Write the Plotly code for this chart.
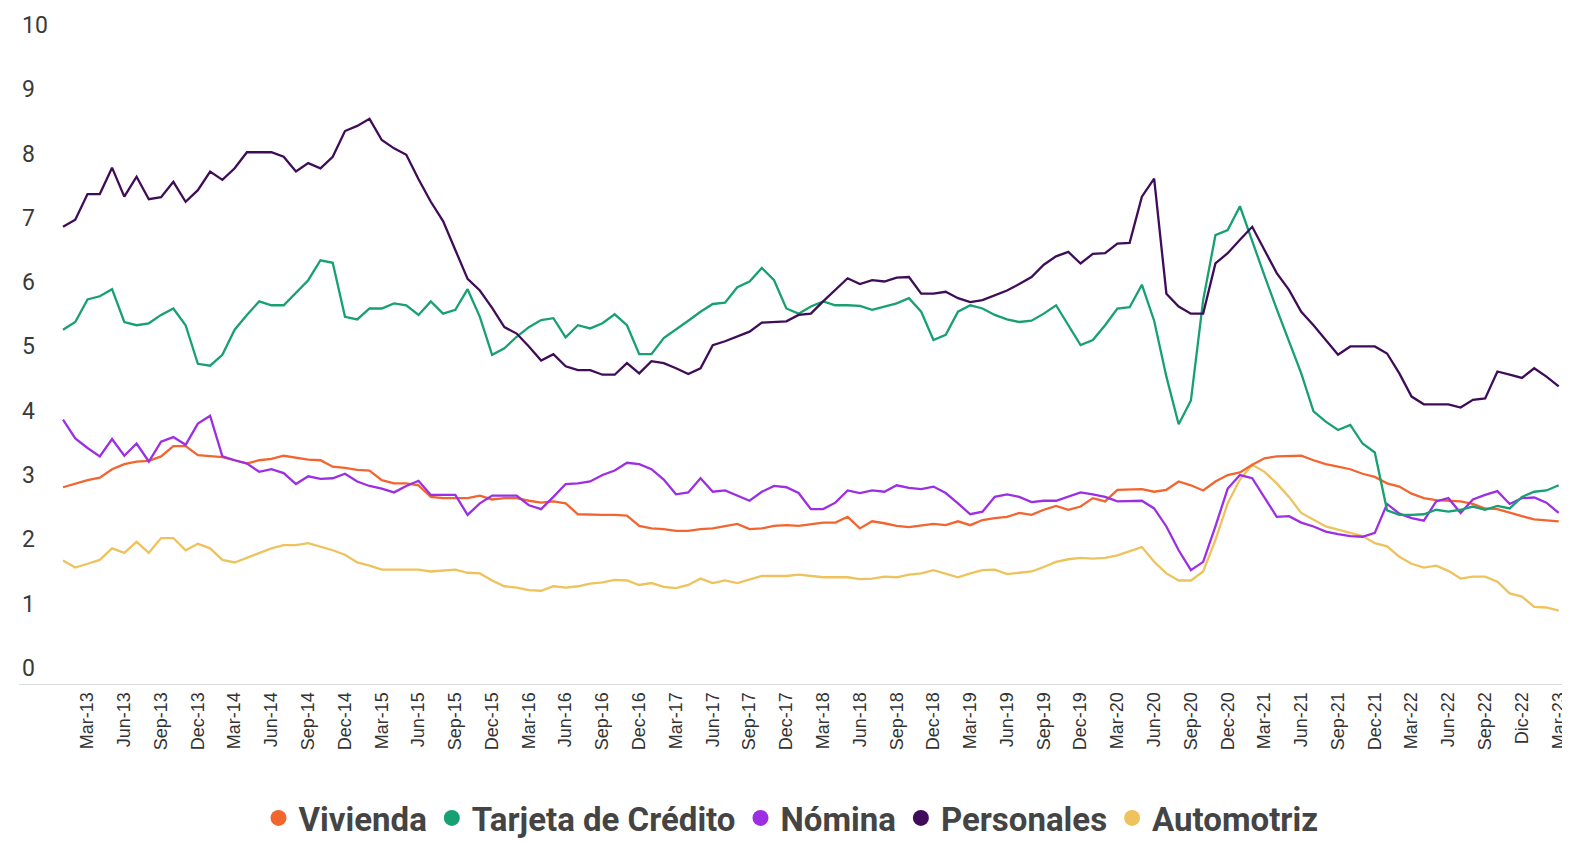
import pandas as pd
import plotly.graph_objects as go

months = [d.strftime("%b-%y") for d in pd.date_range("2013-01-01", "2023-03-01", freq="MS")]

vivienda = [3.06, 3.12, 3.17, 3.21, 3.34, 3.42, 3.46, 3.47, 3.54, 3.70,
            3.70, 3.56, 3.55, 3.53, 3.48, 3.43, 3.48, 3.50, 3.55, 3.52,
            3.49, 3.48, 3.38, 3.36, 3.33, 3.32, 3.17, 3.12, 3.12, 3.09,
            2.91, 2.89, 2.89, 2.89, 2.93, 2.87, 2.89, 2.89, 2.85, 2.82,
            2.84, 2.81, 2.64, 2.63, 2.63, 2.63, 2.62, 2.46, 2.42, 2.41,
            2.38, 2.38, 2.41, 2.42, 2.46, 2.49, 2.41, 2.42, 2.46, 2.47,
            2.46, 2.49, 2.51, 2.51, 2.60, 2.42, 2.53, 2.50, 2.46, 2.44,
            2.47, 2.49, 2.47, 2.53, 2.47, 2.55, 2.58, 2.60, 2.66, 2.63,
            2.71, 2.77, 2.71, 2.76, 2.89, 2.84, 3.02, 3.02, 3.03, 2.99,
            3.02, 3.15, 3.09, 3.01, 3.15, 3.25, 3.29, 3.41, 3.51, 3.54,
            3.54, 3.55, 3.48, 3.42, 3.38, 3.34, 3.27, 3.22, 3.12, 3.07,
            2.96, 2.89, 2.86, 2.85, 2.84, 2.80, 2.73, 2.72, 2.66, 2.61,
            2.56, 2.54, 2.53]

tarjeta = [5.51, 5.63, 5.98, 6.03, 6.14, 5.63, 5.58, 5.61, 5.74, 5.84,
           5.58, 4.98, 4.95, 5.12, 5.51, 5.74, 5.95, 5.89, 5.89, 6.08,
           6.28, 6.59, 6.55, 5.71, 5.67, 5.84, 5.84, 5.92, 5.89, 5.74,
           5.95, 5.76, 5.82, 6.14, 5.71, 5.12, 5.22, 5.40, 5.55, 5.66,
           5.69, 5.39, 5.58, 5.53, 5.61, 5.75, 5.58, 5.13, 5.13, 5.38,
           5.51, 5.65, 5.79, 5.91, 5.93, 6.17, 6.26, 6.47, 6.28, 5.84,
           5.76, 5.87, 5.95, 5.89, 5.89, 5.88, 5.82, 5.87, 5.92, 6.00,
           5.79, 5.35, 5.43, 5.79, 5.89, 5.84, 5.74, 5.67, 5.63, 5.65,
           5.76, 5.89, 5.58, 5.27, 5.35, 5.58, 5.84, 5.86, 6.21, 5.65,
           4.78, 4.04, 4.41, 5.97, 6.98, 7.06, 7.43, 6.88, 6.35, 5.83,
           5.34, 4.83, 4.24, 4.08, 3.95, 4.03, 3.74, 3.60, 2.70, 2.63,
           2.63, 2.64, 2.71, 2.68, 2.71, 2.76, 2.71, 2.77, 2.73, 2.91,
           2.99, 3.01, 3.09]

nomina = [4.11, 3.82, 3.67, 3.54, 3.81, 3.55, 3.74, 3.46, 3.77, 3.84,
          3.72, 4.05, 4.17, 3.54, 3.48, 3.43, 3.30, 3.34, 3.28, 3.11,
          3.23, 3.19, 3.20, 3.27, 3.15, 3.08, 3.04, 2.98, 3.08, 3.16,
          2.94, 2.94, 2.94, 2.63, 2.81, 2.93, 2.93, 2.93, 2.78, 2.72,
          2.91, 3.11, 3.12, 3.15, 3.25, 3.32, 3.44, 3.42, 3.34, 3.18,
          2.95, 2.98, 3.20, 2.99, 3.01, 2.93, 2.85, 2.99, 3.08, 3.06,
          2.97, 2.72, 2.72, 2.82, 3.01, 2.97, 3.01, 2.99, 3.09, 3.05,
          3.03, 3.07, 2.97, 2.81, 2.64, 2.68, 2.91, 2.95, 2.91, 2.83,
          2.85, 2.85, 2.91, 2.98, 2.95, 2.91, 2.84, 2.84, 2.85, 2.73,
          2.45, 2.08, 1.77, 1.90, 2.45, 3.04, 3.25, 3.20, 2.89, 2.60,
          2.61, 2.51, 2.45, 2.37, 2.33, 2.30, 2.29, 2.35, 2.80, 2.65,
          2.58, 2.54, 2.84, 2.89, 2.66, 2.87, 2.94, 3.00, 2.80, 2.89,
          2.90, 2.82, 2.66]

personales = [7.11, 7.22, 7.62, 7.62, 8.03, 7.58, 7.89, 7.54, 7.57, 7.81,
              7.50, 7.68, 7.97, 7.84, 8.02, 8.27, 8.27, 8.27, 8.20, 7.97,
              8.10, 8.02, 8.20, 8.60, 8.68, 8.79, 8.46, 8.33, 8.23, 7.85,
              7.50, 7.20, 6.75, 6.30, 6.12, 5.85, 5.55, 5.45, 5.25, 5.03,
              5.13, 4.94, 4.88, 4.88, 4.81, 4.81, 4.99, 4.83, 5.02, 4.99,
              4.91, 4.82, 4.91, 5.27, 5.33, 5.40, 5.48, 5.62, 5.63, 5.64,
              5.74, 5.76, 5.95, 6.13, 6.31, 6.22, 6.28, 6.26, 6.32, 6.33,
              6.07, 6.07, 6.10, 6.00, 5.94, 5.97, 6.04, 6.12, 6.22, 6.33,
              6.52, 6.65, 6.72, 6.54, 6.69, 6.70, 6.85, 6.86, 7.58, 7.86,
              6.07, 5.87, 5.76, 5.76, 6.54, 6.70, 6.91, 7.11, 6.75, 6.39,
              6.13, 5.79, 5.58, 5.35, 5.12, 5.25, 5.25, 5.25, 5.14, 4.83,
              4.47, 4.35, 4.35, 4.35, 4.30, 4.42, 4.44, 4.86, 4.81, 4.76,
              4.91, 4.78, 4.63]

automotriz = [1.92, 1.81, 1.87, 1.93, 2.11, 2.04, 2.21, 2.04, 2.27, 2.27,
              2.08, 2.18, 2.11, 1.93, 1.89, 1.96, 2.03, 2.11, 2.16, 2.16,
              2.19, 2.14, 2.08, 2.01, 1.89, 1.84, 1.78, 1.78, 1.78, 1.78,
              1.75, 1.77, 1.78, 1.73, 1.72, 1.61, 1.52, 1.50, 1.46, 1.45,
              1.52, 1.50, 1.52, 1.56, 1.58, 1.62, 1.61, 1.54, 1.57, 1.51,
              1.49, 1.54, 1.64, 1.57, 1.61, 1.57, 1.62, 1.68, 1.68, 1.68,
              1.70, 1.68, 1.66, 1.66, 1.66, 1.63, 1.64, 1.67, 1.66, 1.70,
              1.72, 1.77, 1.72, 1.66, 1.72, 1.77, 1.78, 1.71, 1.73, 1.75,
              1.82, 1.90, 1.94, 1.96, 1.95, 1.96, 2.00, 2.06, 2.13, 1.90,
              1.72, 1.61, 1.61, 1.75, 2.24, 2.81, 3.18, 3.41, 3.30, 3.12,
              2.91, 2.66, 2.55, 2.45, 2.40, 2.35, 2.30, 2.19, 2.14, 1.98,
              1.87, 1.81, 1.84, 1.76, 1.64, 1.67, 1.67, 1.59, 1.41, 1.36,
              1.20, 1.19, 1.14]

tick_labels = ["Mar-13", "Jun-13", "Sep-13", "Dec-13", "Mar-14", "Jun-14", "Sep-14", "Dec-14",
               "Mar-15", "Jun-15", "Sep-15", "Dec-15", "Mar-16", "Jun-16", "Sep-16", "Dec-16",
               "Mar-17", "Jun-17", "Sep-17", "Dec-17", "Mar-18", "Jun-18", "Sep-18", "Dec-18",
               "Mar-19", "Jun-19", "Sep-19", "Dec-19", "Mar-20", "Jun-20", "Sep-20", "Dec-20",
               "Mar-21", "Jun-21", "Sep-21", "Dec-21", "Mar-22", "Jun-22", "Sep-22", "Dic-22",
               "Mar-23"]
tick_months = months[2::3]

series_names = ["Vivienda", "Tarjeta de Crédito", "Nómina", "Personales", "Automotriz"]
series_values = [vivienda, tarjeta, nomina, personales, automotriz]
colors = ["#F2652F", "#17A072", "#9C2EE3", "#3E0C58", "#EEC25C"]

fig = go.Figure()
# draw order: Automotriz, Vivienda, Nómina, Tarjeta, Personales
for idx in [4, 0, 2, 1, 3]:
    fig.add_trace(go.Scatter(x=months, y=series_values[idx], mode="lines",
                             line=dict(color=colors[idx], width=2.3),
                             name=series_names[idx], showlegend=False))
for name, col in zip(series_names, colors):
    fig.add_trace(go.Scatter(x=[None], y=[None], mode="markers",
                             marker=dict(color=col, size=19, symbol="circle"),
                             name=name, showlegend=True))

# the page body adds an 8px offset; the figure is sized to fit the window
fig.update_layout(
    width=1562, height=838,
    margin=dict(l=11, r=7, t=33, b=162, autoexpand=False),
    paper_bgcolor="white", plot_bgcolor="white",
    showlegend=True,
    legend=dict(orientation="h", x=0.5, xanchor="center", yref="container",
                y=0.0, yanchor="bottom", borderwidth=0,
                font=dict(family="Roboto", size=33, color="#444444", weight=700),
                itemsizing="trace"),
    xaxis=dict(type="category", range=[-3.59, 122.35], tickmode="array",
               tickvals=tick_months, ticktext=tick_labels, tickangle=-90,
               showgrid=False, zeroline=False, showline=True, automargin=False,
               linecolor="#dcdcdc", linewidth=1, ticks="",
               tickfont=dict(family="Liberation Sans", size=18, color="#333333")),
    yaxis=dict(range=[0, 10], tickvals=list(range(0, 11)), showgrid=False,
               zeroline=False, showline=False, ticks="", automargin=False,
               ticklabelposition="inside top", ticklabeloverflow="allow",
               tickfont=dict(family="Roboto", size=23, color="#3a3a3a")),
)

fig.write_html("out.html")
